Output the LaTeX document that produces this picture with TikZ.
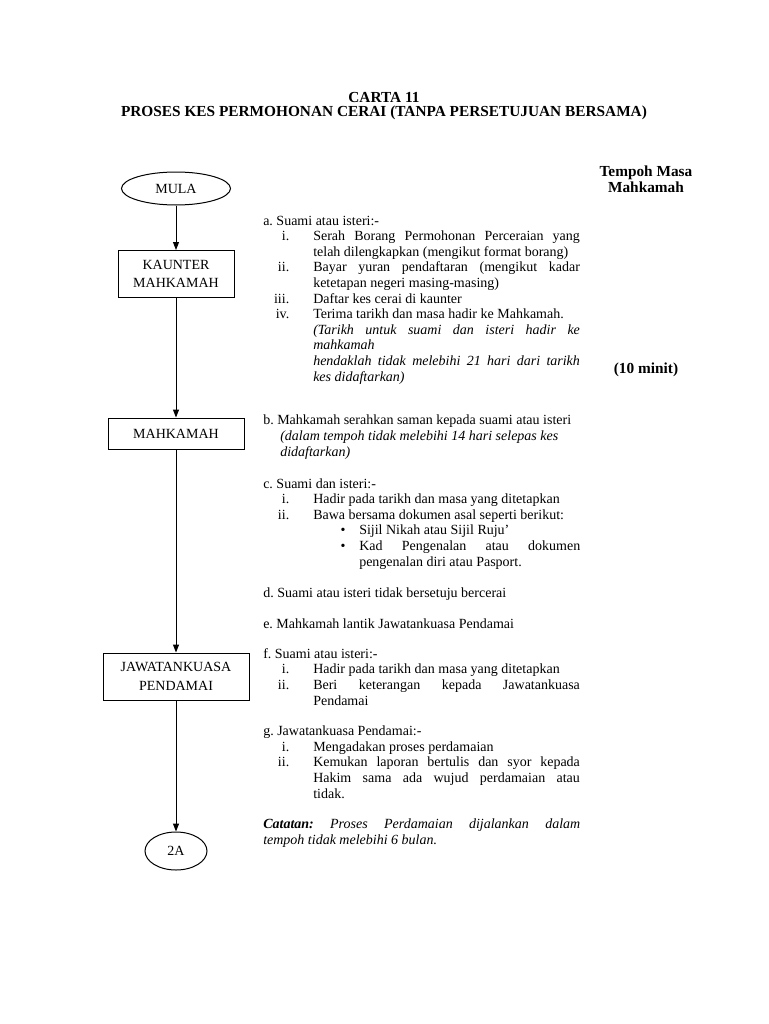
\documentclass[tikz,border=0pt]{standalone}
\usepackage{fontspec}
\setmainfont{Liberation Serif}
\frenchspacing
\usetikzlibrary{shapes.geometric,arrows.meta,positioning}
\tikzset{
  fc_term/.style={ellipse,draw,line width=0.75pt,inner sep=0pt,
    font=\fontsize{10.5}{14}\selectfont},
  fc_box/.style={rectangle,draw,line width=0.75pt,align=center,inner sep=0pt,
    font=\fontsize{10.5}{14}\selectfont},
  txt/.style={anchor=base west,align=left,inner sep=0pt,
    font=\fontsize{10.5}{11.7}\selectfont},
  hd/.style={align=center,inner sep=0pt,font=\fontsize{11.5}{12}\selectfont\bfseries},
  arr/.style={-{Triangle[length=6pt,width=4.5pt]},line width=0.75pt},
}
\newcommand{\rn}[2]{\makebox[19.5pt][r]{#1}\hspace{18pt}#2}
\newcommand{\ind}[1]{\hspace{37.5pt}#1}
\newcommand{\jst}[2][200pt]{\makebox[#1][s]{#2}}
\newcommand{\bul}[1]{\hspace{58pt}\makebox[14pt][l]{\textbullet}#1}

\begin{document}
\begin{tikzpicture}[x=0.75pt,y=-0.75pt]
  \fill[white] (0,0) rectangle (768,1024);
  % headings
  \node (t1) [hd] at (384,97) {CARTA 11};
  \node (t2) [hd] at (384,113) {PROSES KES PERMOHONAN CERAI (TANPA PERSETUJUAN BERSAMA)};
  \node (tm) [hd] at (646,179) {Tempoh Masa\\Mahkamah};
  \node (tmin) [hd] at (646,370) {(10 minit)};
  % flow
  \node (mula) [fc_term,minimum width=81.75pt,minimum height=24.75pt] at (176,188.5) {MULA};
  \node (kaunter) [fc_box,minimum width=87pt,minimum height=35.25pt] at (176,274) {KAUNTER\\MAHKAMAH};
  \node (mahk) [fc_box,minimum width=102pt,minimum height=23.25pt] at (176,433.5) {MAHKAMAH};
  \node (jk) [fc_box,minimum width=109.5pt,minimum height=35.25pt] at (176,676.5) {JAWATANKUASA\\PENDAMAI};
  \node (nxt) [fc_term,minimum width=46.5pt,minimum height=28.5pt] at (176,851) {2A};
  \draw[arr] (mula) -- (kaunter);
  \draw[arr] (kaunter) -- (mahk);
  \draw[arr] (mahk) -- (jk);
  \draw[arr] (jk) -- (nxt);
  % steps (placed at the baseline of their last line)
  \node (sa) [txt] at (263,381) {a. Suami atau isteri:-\\
    \rn{i.}{\jst{Serah Borang Permohonan Perceraian yang}}\\
    \ind{telah dilengkapkan (mengikut format borang)}\\
    \rn{ii.}{\jst{Bayar yuran pendaftaran (mengikut kadar}}\\
    \ind{ketetapan negeri masing-masing)}\\
    \rn{iii.}{Daftar kes cerai di kaunter}\\
    \rn{iv.}{Terima tarikh dan masa hadir ke Mahkamah.}\\
    \ind{\textit{\jst{(Tarikh untuk suami dan isteri hadir ke}}}\\
    \ind{\textit{mahkamah}}\\
    \ind{\textit{\jst{hendaklah tidak melebihi 21 hari dari tarikh}}}\\
    \ind{\textit{kes didaftarkan)}}};
  \node (sb) [txt] at (263,456) {b. Mahkamah serahkan saman kepada suami atau isteri\\
    \hspace{12.75pt}\textit{(dalam tempoh tidak melebihi 14 hari selepas kes}\\
    \hspace{12.75pt}\textit{didaftarkan)}};
  \node (sc) [txt] at (263,566) {c. Suami dan isteri:-\\
    \rn{i.}{Hadir pada tarikh dan masa yang ditetapkan}\\
    \rn{ii.}{Bawa bersama dokumen asal seperti berikut:}\\
    \bul{Sijil Nikah atau Sijil Ruju’}\\
    \bul{\jst[165.75pt]{Kad Pengenalan atau dokumen}}\\
    \hspace{72pt}pengenalan diri atau Pasport.};
  \node (sd) [txt] at (263,597) {d. Suami atau isteri tidak bersetuju bercerai};
  \node (se) [txt] at (263,628) {e. Mahkamah lantik Jawatankuasa Pendamai};
  \node (sf) [txt] at (263,705) {f. Suami atau isteri:-\\
    \rn{i.}{Hadir pada tarikh dan masa yang ditetapkan}\\
    \rn{ii.}{\jst{Beri keterangan kepada Jawatankuasa}}\\
    \ind{Pendamai}};
  \node (sg) [txt] at (263,798) {g. Jawatankuasa Pendamai:-\\
    \rn{i.}{Mengadakan proses perdamaian}\\
    \rn{ii.}{\jst{Kemukan laporan bertulis dan syor kepada}}\\
    \ind{\jst{Hakim sama ada wujud perdamaian atau}}\\
    \ind{tidak.}};
  \node (scat) [txt] at (263,844) {\jst[237.75pt]{\textbf{\textit{Catatan:}} \textit{Proses Perdamaian dijalankan dalam}}\\
    \textit{tempoh tidak melebihi 6 bulan.}};
\end{tikzpicture}
\end{document}
